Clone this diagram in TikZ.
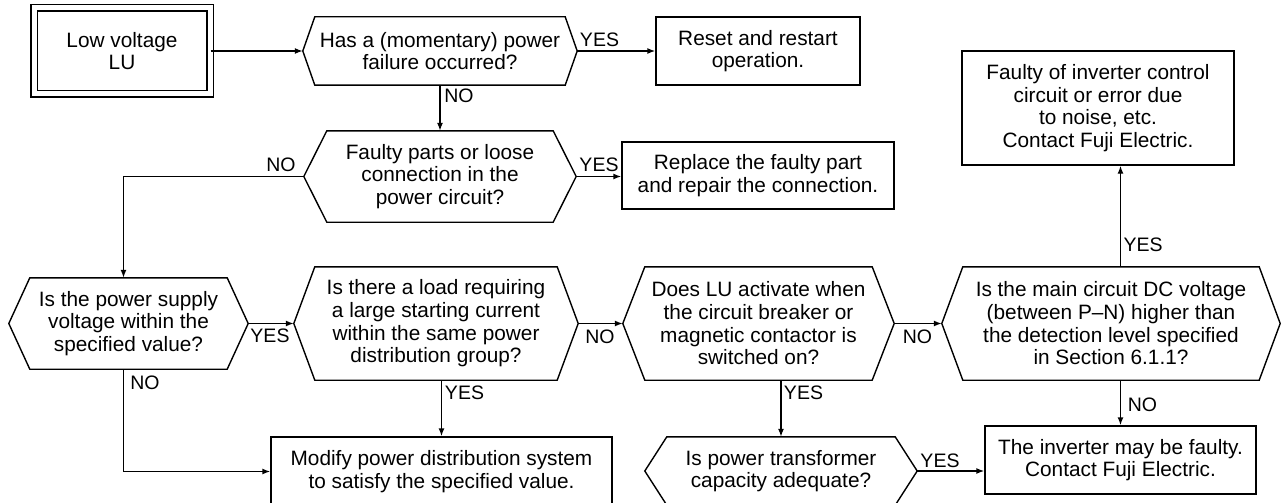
\documentclass[tikz,border=0pt]{standalone}
\usepackage{fontspec}
\setmainfont{Liberation Sans}
\usetikzlibrary{arrows.meta,calc}
\newcommand\hexpath[2]{%
  \draw[lw] (#1.west) -- ([xshift=#2]#1.north west) -- ([xshift=-#2]#1.north east) -- (#1.east)
    -- ([xshift=-#2]#1.south east) -- ([xshift=#2]#1.south west) -- cycle;}
\begin{document}
\begin{tikzpicture}[x=1pt,y=-1pt,
  every node/.style={font=\fontsize{20.8}{22.7}\selectfont, inner sep=0pt, align=center},
  lw/.style={line width=1.4pt},
  boxn/.style={draw, line width=1.4pt},
  hexn/.style={},
  conn/.style={line width=1.4pt, -{Latex[length=8pt,width=6pt]}},
  lab/.style={font=\fontsize{19.5}{22}\selectfont}]
\useasboundingbox (0,0) rectangle (1283,503);

% start box
\node[draw, line width=1.3pt, double, double distance=5pt, minimum width=176pt, minimum height=86pt] (lu) at (122,51) {Low voltage\\LU};

% hexagons
\node[hexn, minimum width=274pt, minimum height=68pt] (h1) at (440,51) {Has a (momentary) power\\failure occurred?};
\node[hexn, minimum width=272pt, minimum height=91pt] (h2) at (440,176.5) {Faulty parts or loose\\connection in the\\power circuit?};
\node[hexn, minimum width=239pt, minimum height=91pt] (h3) at (128.5,323.5) {Is the power supply\\voltage within the\\specified value?};
\node[hexn, minimum width=284pt, minimum height=113pt] (h4) at (436,323.5) {Is there a load requiring\\a large starting current\\within the same power\\distribution group?};
\node[hexn, minimum width=271pt, minimum height=113pt] (h5) at (758.5,323.5) {Does LU activate when\\the circuit breaker or\\magnetic contactor is\\switched on?};
\node[hexn, minimum width=338pt, minimum height=113pt] (h7) at (1111,323.5) {Is the main circuit DC voltage\\(between P–N) higher than\\the detection level specified\\in Section 6.1.1?};
\node[hexn, minimum width=272pt, minimum height=68pt] (h6) at (781,471) {Is power transformer\\capacity adequate?};
\hexpath{h1}{12}
\hexpath{h2}{23}
\hexpath{h3}{21}
\hexpath{h4}{21}
\hexpath{h5}{22}
\hexpath{h7}{21}
\hexpath{h6}{22}

% boxes
\node[boxn, minimum width=204pt, minimum height=68pt] (reset) at (758,51) {Reset and restart\\operation.};
\node[boxn, minimum width=272pt, minimum height=67pt] (rep) at (758,175.5) {Replace the faulty part\\and repair the connection.};
\node[boxn, minimum width=272pt, minimum height=114pt] (fault) at (1098,108) {Faulty of inverter control\\circuit or error due\\to noise, etc.\\Contact Fuji Electric.};
\node[boxn, minimum width=271pt, minimum height=68pt] (inv) at (1120.5,460) {The inverter may be faulty.\\Contact Fuji Electric.};
\node[boxn, minimum width=341pt, minimum height=69pt] (mod) at (441.5,471.5) {Modify power distribution system\\to satisfy the specified value.};

% connectors
\draw[conn] (lu.east) -- (h1.west);
\draw[conn] (h1.east) -- (reset.west);
\draw[conn] (h1.south) -- (h2.north);
\draw[conn] (h2.east) -- (h2.east -| rep.west);
\draw[conn] (h2.west) -| ([xshift=-5pt]h3.north);
\draw[conn] (h3.east) -- (h4.west);
\draw[conn] ([xshift=-5pt]h3.south) |- (mod.west);
\draw[conn] (h4.south -| mod.north) -- (mod.north);
\draw[conn] (h4.east) -- (h5.west);
\draw[conn] (h5.south -| h6.north) -- (h6.north);
\draw[conn] (h5.east) -- (h7.west);
\draw[conn] (h6.east) -- (h6.east -| inv.west);
\draw[conn] (h7.north -| inv.north) -- (inv.north |- fault.south);
\draw[conn] (h7.south -| inv.north) -- (inv.north);

% labels
\node[lab] (l1) at (599.5,40) {YES};
\node[lab] (l2) at (459,96) {NO};
\node[lab] (l3) at (281,164.5) {NO};
\node[lab] (l4) at (599,165) {YES};
\node[lab] (l5) at (270,335.5) {YES};
\node[lab] (l6) at (145,382.5) {NO};
\node[lab] (l7) at (464.5,392.5) {YES};
\node[lab] (l8) at (600,336.5) {NO};
\node[lab] (l9) at (917.5,336.5) {NO};
\node[lab] (l10) at (803.5,392.5) {YES};
\node[lab] (l11) at (940,460.5) {YES};
\node[lab] (l12) at (1143,244.5) {YES};
\node[lab] (l13) at (1142.5,404.5) {NO};
\end{tikzpicture}
\end{document}
